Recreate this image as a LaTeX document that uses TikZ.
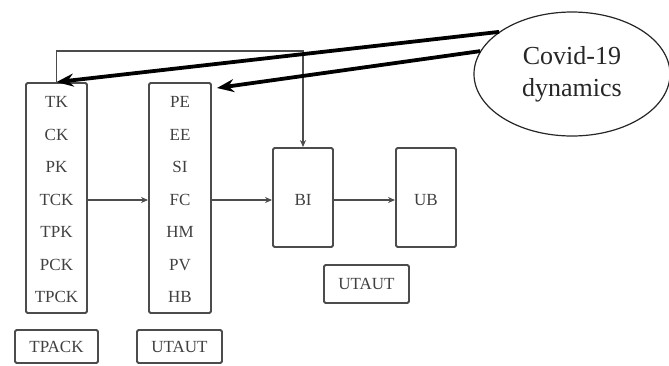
\documentclass[tikz,border=0pt]{standalone}
\usepackage{fontspec}
\setmainfont{Liberation Serif}
\usetikzlibrary{shapes.geometric,arrows.meta}
\begin{document}
\begin{tikzpicture}[x=1pt,y=-1pt,
  box/.style={draw=black!70,line width=1.9pt,rounded corners=1.5pt,inner sep=0},
  lbl/.style={font=\fontsize{17}{17}\selectfont,text=black!75,inner sep=0},
  conn/.style={draw=black!70,line width=1.7pt,-{Stealth[length=7pt,width=6pt]}},
  bigarrow/.style={draw=black,line width=3.8pt,-{Stealth[length=17pt,width=13pt]}}]
\useasboundingbox (0,0) rectangle (669,365);
% columns
\node[box,minimum width=61pt,minimum height=230pt] (tpack) at (56.5,198) {};
\node[box,minimum width=62pt,minimum height=230pt] (utaut) at (180,198) {};
\node[box,minimum width=60pt,minimum height=99pt] (bi) at (303,197.5) {};
\node[box,minimum width=60pt,minimum height=99pt] (ub) at (426,197.5) {};
\node[lbl] (bitext) at (303,200) {BI};
\node[lbl] (ubtext) at (426,200) {UB};
% TPACK rows
\node[lbl] (tk) at (56.5,102) {TK};
\node[lbl] (ck) at (56.5,135) {CK};
\node[lbl] (pk) at (56.5,167) {PK};
\node[lbl] (tck) at (56.5,200) {TCK};
\node[lbl] (tpk) at (56.5,232) {TPK};
\node[lbl] (pck) at (56.5,265) {PCK};
\node[lbl] (tpck) at (56.5,297) {TPCK};
% UTAUT rows
\node[lbl] (pe) at (180,102) {PE};
\node[lbl] (ee) at (180,135) {EE};
\node[lbl] (si) at (180,167) {SI};
\node[lbl] (fc) at (180,200) {FC};
\node[lbl] (hm) at (180,232) {HM};
\node[lbl] (pv) at (180,265) {PV};
\node[lbl] (hb) at (180,297) {HB};
% model labels
\node[box,lbl,draw=black!70,minimum width=83pt,minimum height=33pt] (l1) at (56.5,346.5) {TPACK};
\node[box,lbl,draw=black!70,minimum width=85pt,minimum height=33pt] (l2) at (179.5,346.5) {UTAUT};
\node[box,lbl,draw=black!70,minimum width=85pt,minimum height=38pt] (l3) at (366.5,284) {UTAUT};
% ellipse
\node[draw=black!85,line width=1.2pt,ellipse,minimum width=196pt,minimum height=124pt,inner sep=0,
  align=center,font=\fontsize{26}{32}\selectfont,text=black!85] (cov) at (572,74) {Covid-19\\dynamics};
% thin connectors
\draw[conn] (tck -| tpack.east) -- (fc -| utaut.west);
\draw[conn] (fc -| utaut.east) -- (bi.west |- fc);
\draw[conn] (bi.east |- fc) -- (ub.west |- fc);
\coordinate (topc) at (303,51);
\draw[conn] (tpack.north) |- (topc) -- (bi.north);
% thick arrows
\coordinate (t2) at (217,88);
\draw[bigarrow] (cov.150) -- (tpack.north);
\draw[bigarrow] (cov.166) -- (t2);
\end{tikzpicture}
\end{document}
